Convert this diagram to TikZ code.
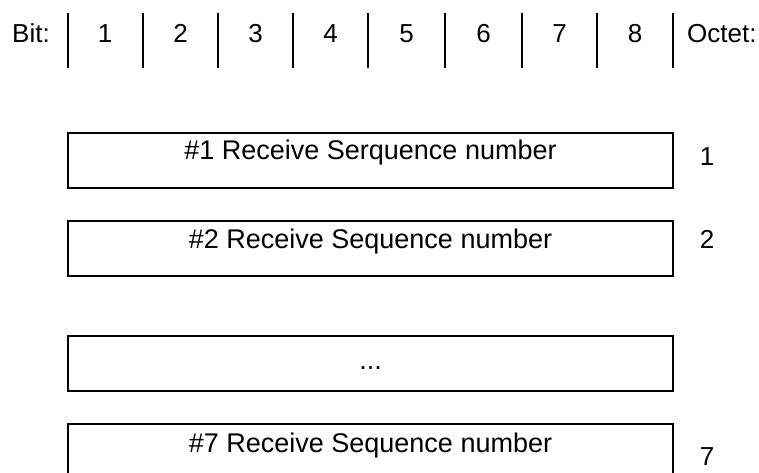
\documentclass[tikz,border=0pt]{standalone}
\usepackage{fontspec}
\setmainfont{Liberation Sans}
\begin{document}
\begin{tikzpicture}[x=1pt,y=-1pt,
  sepline/.style={line width=2.2pt},
  field/.style={draw, line width=2.4pt, minimum width=605pt, minimum height=55pt,
    inner sep=0pt, outer sep=0pt, anchor=north west},
  hdr/.style={font=\fontsize{26}{31}\selectfont, anchor=base, inner sep=0pt},
  ftxt/.style={font=\fontsize{27}{32}\selectfont, anchor=base, inner sep=0pt}]
\useasboundingbox (0,0) rectangle (759,473);
\clip (0,0) rectangle (759,473);
% header separators
\foreach \i/\x in {0/68,1/143,2/218,3/293,4/368,5/445,6/522,7/597,8/673}{
  \coordinate (t\i) at (\x,13);
  \coordinate (b\i) at (\x,68);
  \draw[sepline] (t\i) -- (b\i);
}
\node[hdr, anchor=base west] (bit) at (12,43) {Bit:};
\node[hdr] (n1) at (105,43) {1};
\node[hdr] (n2) at (180.5,43) {2};
\node[hdr] (n3) at (255.5,43) {3};
\node[hdr] (n4) at (330.5,43) {4};
\node[hdr] (n5) at (406.5,43) {5};
\node[hdr] (n6) at (483.5,43) {6};
\node[hdr] (n7) at (559.5,43) {7};
\node[hdr] (n8) at (635,43) {8};
\node[hdr, anchor=base west] (octet) at (687,43) {Octet:};
% fields
\node[field] (f1) at (68,133) {};
\node[field] (f2) at (68,221) {};
\node[field] (f3) at (68,336) {};
\node[field] (f4) at (68,424) {};
\node[ftxt] (l1) at (370.5,160) {\#1 Receive Serquence number};
\node[ftxt] (l2) at (370.5,248) {\#2 Receive Sequence number};
\node[ftxt] (l3) at (370.5,369) {...};
\node[ftxt] (l4) at (370.5,452) {\#7 Receive Sequence number};
% octet numbers
\node[hdr] (o1) at (707,165) {1};
\node[hdr] (o2) at (707,248) {2};
\node[hdr] (o7) at (707,465) {7};
\end{tikzpicture}
\end{document}
